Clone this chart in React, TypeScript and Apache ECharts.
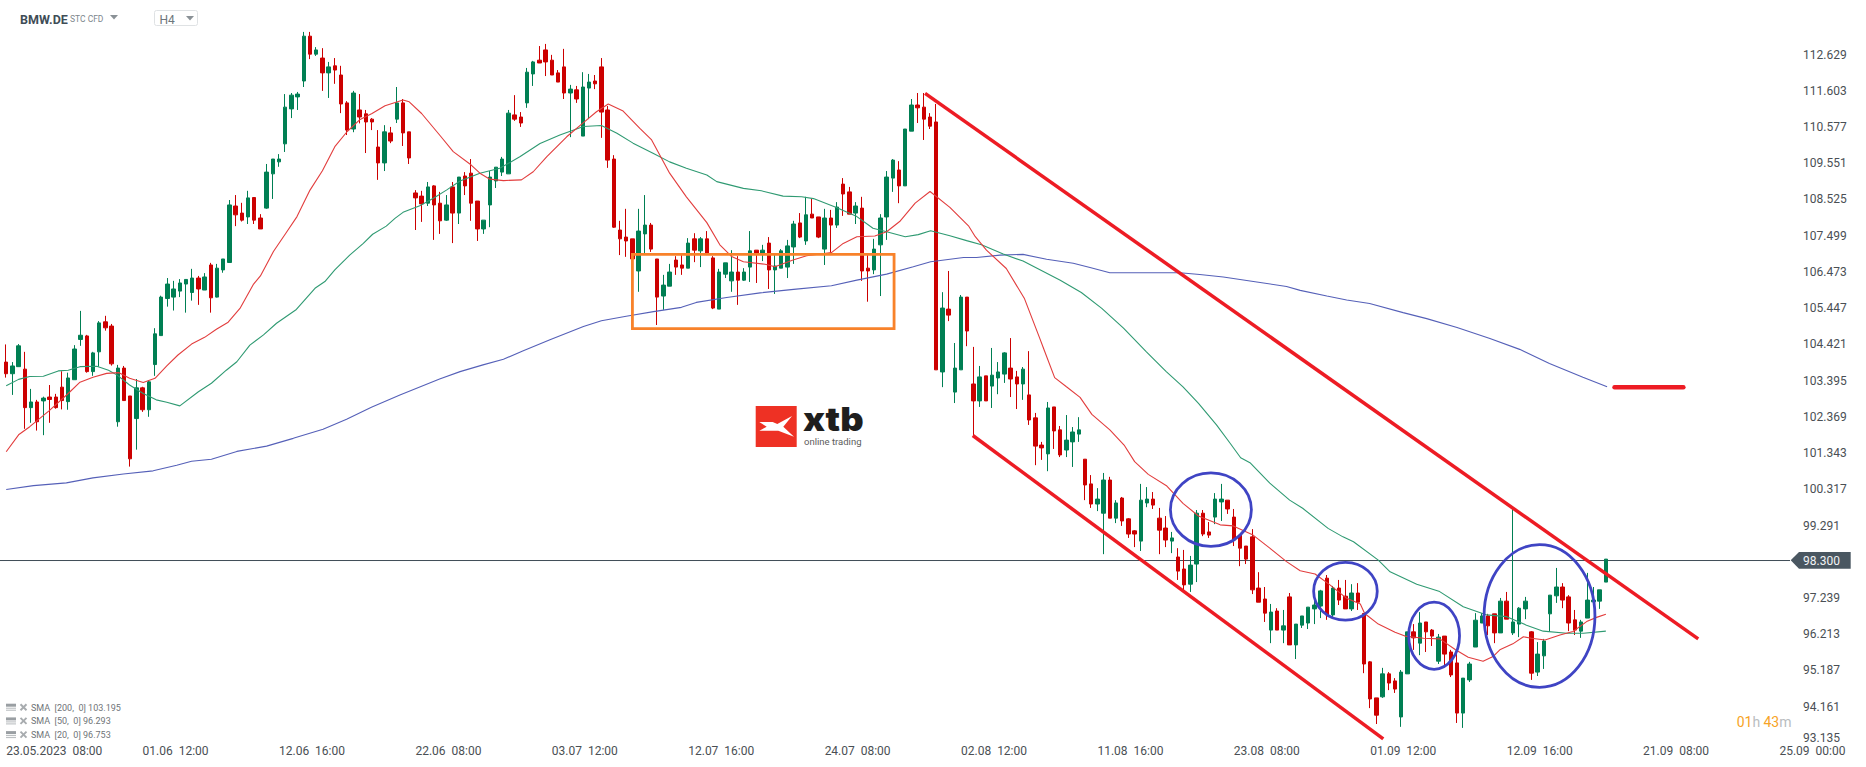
import { useEffect, useRef } from 'react'
import * as echarts from 'echarts'

// candles, H4
const opens = [
  103.92,103.59,103.79,103.72,102.63,102.79,102.82,102.93,102.93,103.21,
  102.80,103.42,104.56,104.66,103.65,104.21,105.06,104.94,102.23,103.75,
  102.96,102.32,103.19,102.57,103.85,104.67,105.72,105.76,105.93,106.13,
  105.89,106.30,105.96,106.67,105.76,106.53,106.74,108.34,108.14,108.03,
  108.58,108.00,108.28,109.25,109.59,110.10,111.09,111.43,111.88,113.15,
  112.64,112.53,112.11,112.31,112.05,111.26,110.52,111.06,110.95,110.80,
  110.01,109.56,110.41,110.80,111.26,110.44,108.71,108.62,108.42,108.91,
  108.42,107.94,108.88,108.14,109.19,109.27,108.48,107.69,108.37,109.05,
  109.30,109.25,110.92,110.86,111.26,112.08,112.47,112.76,112.47,112.11,
  112.28,111.54,111.63,110.32,111.68,111.88,112.28,111.06,109.67,107.66,
  107.46,107.41,106.50,107.55,107.80,106.84,105.79,106.07,106.81,106.67,
  106.58,107.41,107.07,107.41,106.87,105.42,106.41,106.22,106.47,106.24,
  106.61,107.09,106.98,107.29,106.53,106.58,106.61,107.18,107.86,107.35,
  108.11,108.03,107.12,108.00,107.80,108.96,108.74,108.14,108.28,106.58,
  106.53,107.24,108.03,109.13,109.36,108.91,110.46,111.20,111.14,110.86,
  110.72,103.64,105.42,103.07,103.70,105.76,103.30,102.82,103.53,103.24,
  103.47,103.58,103.75,103.50,103.30,102.99,102.34,101.57,101.32,102.65,
  102.00,101.43,101.66,101.88,101.17,100.47,99.90,99.64,100.58,99.50,
  100.07,99.48,99.14,98.85,99.93,100.04,99.50,99.22,98.85,98.40,
  98.06,97.63,98.20,99.64,99.11,99.53,99.96,100.01,99.53,99.02,
  98.71,98.97,97.52,97.21,96.33,96.87,96.33,97.27,95.91,96.47,
  96.53,96.93,97.01,97.80,96.76,97.52,97.29,96.93,97.38,96.80,
  95.43,94.41,94.44,95.09,94.89,93.87,95.09,96.28,95.96,96.56,
  96.33,95.45,96.16,95.71,95.40,93.98,94.92,95.85,96.53,96.73,
  96.79,96.25,97.15,96.25,96.50,96.93,96.28,95.14,95.60,96.79,
  97.30,97.55,97.27,96.62,96.30,96.67,97.13,97.15,97.69,
]
const closes = [
  103.59,103.81,104.38,102.63,102.79,102.23,102.90,102.86,102.63,102.83,
  103.47,104.29,104.68,103.65,104.18,105.03,104.89,103.87,103.75,102.83,
  101.18,103.19,102.57,103.36,104.72,105.76,106.13,105.99,106.16,106.26,
  106.30,105.99,106.33,105.74,106.58,106.84,108.37,108.09,107.94,108.57,
  107.94,107.69,109.30,109.67,109.67,111.14,111.48,111.51,113.15,112.64,
  112.76,112.11,112.28,112.19,111.23,110.49,111.54,110.86,110.72,110.72,
  109.56,110.44,110.18,111.26,110.41,109.70,108.57,108.40,108.88,108.37,
  107.92,108.37,108.14,109.16,108.91,108.42,107.69,107.94,109.16,109.44,
  109.67,110.97,110.80,110.69,112.13,112.42,112.39,112.42,112.05,111.85,
  111.54,111.65,111.37,111.71,111.85,111.80,111.00,109.64,107.74,107.41,
  107.35,106.84,107.63,107.80,107.12,105.76,106.10,106.47,106.61,106.58,
  107.29,107.09,107.41,106.98,105.45,106.47,106.73,106.47,106.24,106.47,
  107.07,106.98,107.09,106.53,106.64,107.07,107.21,107.83,107.46,108.09,
  108.00,107.46,108.00,107.80,108.31,108.68,108.11,108.34,106.50,106.50,
  107.12,108.00,109.16,109.64,108.91,110.52,111.20,111.12,110.80,110.60,
  103.70,105.45,105.25,103.75,105.76,104.80,102.82,103.50,102.82,103.55,
  103.64,104.18,103.44,103.30,103.72,102.28,101.54,101.49,102.62,101.97,
  101.29,101.71,101.94,102.00,100.44,99.90,100.04,100.58,99.50,99.93,
  99.42,99.05,99.05,100.01,100.04,99.87,99.16,98.88,98.94,98.00,
  97.61,98.17,99.64,99.05,99.02,100.04,100.04,99.76,98.88,98.65,
  98.34,97.47,97.12,96.81,96.84,96.33,96.45,95.91,96.50,96.73,
  96.98,97.04,97.44,96.76,97.52,97.18,96.93,97.38,97.12,95.37,
  94.38,93.92,95.09,94.83,94.66,95.14,96.28,96.11,96.53,96.28,
  96.16,96.13,95.65,95.06,93.98,94.97,95.37,96.61,96.73,96.45,
  96.25,97.15,96.64,96.56,96.95,97.15,95.11,95.65,96.02,97.32,
  97.55,97.18,96.53,96.33,96.56,97.18,97.18,97.47,98.34,
]
const lows = [
  103.48,102.99,103.79,102.03,102.20,101.98,101.85,102.20,102.60,102.58,
  102.57,103.42,104.38,103.62,103.53,103.79,104.81,103.82,102.09,102.83,
  100.96,101.44,102.51,102.37,103.53,104.67,105.49,105.38,105.76,105.32,
  105.66,105.54,105.96,105.32,105.75,106.45,106.74,107.77,107.90,107.83,
  107.83,107.69,108.26,108.54,109.45,109.87,110.83,111.06,111.71,112.50,
  112.59,111.60,111.40,111.80,110.97,110.35,110.43,110.68,109.84,110.49,
  109.08,109.33,110.12,110.69,110.04,109.53,107.66,107.89,108.34,107.38,
  107.55,107.92,107.29,107.83,108.65,107.92,107.35,107.55,107.74,108.85,
  109.19,109.25,110.75,110.58,111.12,111.74,112.39,112.02,112.05,111.85,
  111.37,110.29,111.26,110.32,110.80,111.65,110.27,109.42,107.72,106.95,
  106.90,106.84,105.91,106.98,107.04,104.97,105.40,106.07,106.39,106.39,
  106.58,106.75,106.61,106.95,105.42,105.42,106.30,105.91,105.54,106.22,
  106.19,106.16,106.78,105.99,105.85,106.58,106.30,106.70,107.43,107.24,
  108.00,107.43,106.67,106.95,107.72,108.06,108.11,107.83,106.22,105.63,
  106.41,105.79,107.38,108.74,108.42,108.91,110.46,110.69,110.21,110.52,
  103.70,103.21,105.08,102.76,103.70,104.37,101.85,102.65,102.82,102.62,
  103.01,103.33,102.93,102.59,102.85,102.14,101.00,101.15,100.83,101.46,
  101.23,101.23,100.95,101.66,100.01,99.79,99.70,98.48,99.50,99.36,
  99.28,98.94,98.68,98.57,99.81,99.76,98.48,98.68,98.51,97.75,
  97.41,97.41,97.69,98.99,98.94,99.33,99.42,99.62,98.71,98.14,
  98.20,97.35,97.12,96.56,95.96,96.33,95.96,95.91,95.51,96.39,
  96.36,96.50,96.67,96.62,96.70,97.04,96.93,96.87,96.90,95.11,
  94.12,93.67,94.41,94.63,94.55,93.59,95.09,95.77,95.62,95.71,
  95.88,95.37,95.34,95.00,93.70,93.56,94.86,95.85,96.53,96.19,
  95.96,96.25,96.64,96.19,96.13,96.64,94.92,95.03,95.23,96.28,
  97.10,96.95,96.30,96.19,96.11,96.67,97.13,96.93,97.69,
]
const highs = [
  104.42,103.92,104.43,104.21,103.16,102.85,102.94,103.27,103.02,103.66,
  103.62,104.40,105.37,104.69,104.21,105.08,105.23,105.00,103.84,103.81,
  102.96,103.44,103.22,103.41,104.88,105.80,106.30,106.22,106.27,106.26,
  106.56,106.36,106.44,106.73,106.70,106.84,108.51,108.65,108.43,108.77,
  108.59,108.11,109.53,109.67,109.81,111.51,111.54,111.57,113.27,113.27,
  112.84,112.81,112.42,112.53,112.31,111.31,111.60,111.51,111.06,110.83,
  110.49,110.63,110.58,111.71,111.37,110.44,108.79,108.77,109.02,108.93,
  108.74,108.65,109.02,109.16,109.30,109.67,108.48,107.94,109.33,109.44,
  109.73,111.06,111.48,111.00,112.25,112.45,112.87,112.93,112.62,112.19,
  112.79,111.77,111.74,112.13,112.08,112.05,112.53,111.17,109.78,107.92,
  108.26,107.41,108.26,108.65,107.86,106.84,106.39,106.70,106.92,106.95,
  107.43,107.57,107.46,107.63,106.92,106.56,106.73,107.09,106.92,106.58,
  107.63,107.09,107.24,107.46,106.95,107.12,107.38,107.92,108.14,108.60,
  108.54,108.03,108.26,108.23,108.45,109.13,108.88,108.45,108.60,106.95,
  107.41,108.11,109.33,109.67,109.61,110.52,111.37,111.54,111.54,110.97,
  111.23,105.90,106.50,104.46,105.82,105.76,104.35,103.81,103.53,104.32,
  103.92,104.20,104.60,103.67,103.78,104.23,102.48,101.66,102.79,102.65,
  102.11,102.42,102.08,102.36,101.17,100.72,100.35,100.78,100.67,100.01,
  100.10,99.50,99.16,100.47,100.38,100.24,99.79,99.56,99.11,98.65,
  98.60,98.43,99.73,99.73,99.39,100.21,100.47,100.01,99.76,99.05,
  98.71,99.19,97.97,97.55,97.07,96.95,96.90,97.38,96.50,96.73,
  96.98,97.44,97.47,97.89,97.58,97.75,97.75,97.63,97.66,96.80,
  95.45,94.41,95.26,95.14,94.97,95.20,96.28,96.50,96.84,96.56,
  96.36,96.22,96.16,95.77,95.74,94.97,95.43,96.81,96.81,96.79,
  96.79,97.24,97.41,99.76,96.98,97.27,96.30,95.99,96.08,97.32,
  98.09,97.66,97.32,96.90,96.62,97.95,97.55,97.47,98.34,
]

// moving averages as [bar, price], read at the bends of each line
const sma20 = [
  [0,101.38],[2,101.86],[3.8,102.09],[6.9,102.54],[10,103.03],[11.9,103.35],[14,103.49],[16.2,103.60],[18.2,103.62],[19.9,103.46],
  [22.1,103.34],[24,103.46],[25.9,103.81],[27.7,104.12],[29.9,104.43],[32,104.62],[33.9,104.85],[35.8,105.05],[37.7,105.44],[39.9,106.13],
  [41,106.36],[43.1,107.05],[45.1,107.57],[46.9,108.04],[49,108.79],[51,109.34],[53,110.02],[55,110.45],[57,110.78],[59,110.96],
  [61.1,111.18],[64,111.34],[65,111.29],[67,110.96],[70,110.33],[72.1,109.88],[75,109.50],[76.4,109.27],[78,109.10],[80.2,109.06],
  [83.1,109.08],[85,109.31],[87.2,109.74],[90.4,110.30],[93.1,110.70],[95.2,111.01],[97.1,111.23],[99.5,111.03],[102.2,110.54],[104.1,110.21],
  [107,109.27],[109.7,108.60],[113,107.87],[115.1,107.24],[117,106.91],[118.9,106.76],[122.4,106.69],[124,106.62],[126.9,106.81],[129.1,106.93],
  [133.1,107.02],[135,107.28],[137.2,107.47],[140.1,107.49],[142,107.61],[144.1,107.90],[146.6,108.42],[149,108.75],[152.2,108.30],[155.2,107.78],
  [156.3,107.47],[158.1,107.09],[161.3,106.57],[164.2,105.73],[166.7,104.59],[167.3,104.31],[169.1,103.48],[171,103.22],[173.2,102.92],[175.1,102.44],
  [178,102.00],[180.3,101.57],[182,101.10],[184.2,100.74],[187.2,100.41],[189.8,99.92],[192.3,99.56],[195.8,99.31],[197.9,99.28],[201.1,99.02],
  [203.8,98.65],[206.5,98.27],[208.7,98.01],[211.1,97.92],[213.5,97.61],[216.2,97.23],[218.4,97.07],[219.1,96.80],[221.3,96.50],[224,96.27],
  [225.6,96.16],[228.6,96.10],[231.2,96.08],[233.7,95.78],[235.8,95.56],[238.2,95.45],[239.8,95.58],[240.9,95.77],[243,95.94],[244.7,96.14],
  [246,96.10],[248.2,96.05],[250.6,96.19],[252.7,96.29],[254.9,96.57],[256.5,96.69],[258,96.78],
]
const sma50 = [
  [0,103.25],[2,103.43],[3.8,103.51],[6,103.52],[8.4,103.67],[10,103.69],[11.9,103.79],[14.6,103.80],[16.5,103.69],[17.9,103.55],
  [19.9,103.27],[22.1,103.03],[24.2,102.85],[25.9,102.78],[28,102.68],[31,103.08],[33.1,103.32],[35.5,103.69],[37.2,103.93],[39.3,104.40],
  [41.5,104.69],[43.6,105.02],[46.8,105.41],[49.8,106.01],[51.4,106.20],[53,106.53],[55.4,106.95],[57.6,107.28],[59.1,107.54],[61.3,107.77],
  [62.7,107.99],[64,108.16],[66.7,108.35],[68.9,108.56],[71,108.79],[73.2,109.05],[76.4,109.27],[79.6,109.41],[82.9,109.74],[86.1,110.11],
  [89.3,110.35],[93.1,110.59],[96,110.62],[98.5,110.40],[101.1,110.12],[104.4,109.83],[107,109.59],[109.7,109.41],[113,109.22],[114.6,109.03],
  [118.9,108.84],[121.8,108.77],[125.3,108.62],[128.3,108.60],[130.2,108.55],[133.9,108.30],[137.2,108.04],[139.8,107.71],[142,107.61],[145,107.47],
  [147.1,107.53],[149.1,107.64],[152.2,107.50],[154.9,107.36],[157.3,107.24],[160.8,106.98],[164,106.78],[170,106.24],[173.4,105.89],[176.7,105.44],
  [180.2,104.88],[183.9,104.21],[187.1,103.65],[189.8,103.22],[192.3,102.75],[195.2,102.14],[197.4,101.62],[199.1,101.21],[200.6,101.07],[203.8,100.49],
  [207,100.01],[209.1,99.78],[213.2,99.21],[215.6,98.97],[217.3,98.83],[221.3,98.31],[223.2,97.98],[227.5,97.63],[231.2,97.42],[235,96.99],
  [238.8,96.76],[242,96.71],[245.2,96.47],[247.9,96.30],[251.7,96.24],[254.4,96.24],[258,96.30],
]
const sma200 = [
  [0,100.31],[4.4,100.42],[9.7,100.50],[14,100.64],[18.9,100.75],[23.7,100.84],[27.5,101.00],[29.9,101.11],[33.1,101.17],[37.2,101.39],
  [42,101.54],[46.3,101.76],[51.1,102.02],[54.9,102.30],[58.9,102.64],[63.5,102.99],[69.9,103.44],[73.2,103.65],[76.9,103.84],[80.2,104.00],
  [83.4,104.24],[87.7,104.55],[93.1,104.93],[96,105.09],[100,105.22],[104.4,105.35],[108.9,105.47],[111.3,105.61],[116.2,105.75],[121.6,105.88],
  [127,105.98],[133.1,106.08],[137.2,106.24],[142,106.41],[146.3,106.62],[149.1,106.76],[154.4,106.88],[156.5,106.88],[160.3,106.95],[164,106.97],
  [167.8,106.83],[172.1,106.72],[174.8,106.60],[178,106.45],[189.3,106.45],[192.5,106.40],[196.3,106.33],[201.7,106.19],[206.5,106.06],[208.7,105.95],
  [213,105.79],[216.2,105.68],[219.9,105.58],[225.3,105.32],[229.1,105.15],[234,104.90],[239.3,104.59],[244.1,104.28],[248.9,103.88],[254.3,103.49],
  [258.2,103.22],
]

// hand-drawn analysis on the chart, [bar, price]
const upperChannel = [[148.2, 111.53], [272.9, 96.08]]
const lowerChannel = [[155.9, 101.84], [222.1, 93.25]]
const targetDash = [[259.4, 103.21], [270.5, 103.21]]
const rangeBox = [101, 106.97, 143.2, 104.87]
// [bar, price, half width in bars, half height in price]
const circles = [
  [194.3, 99.74, 6.53, 1.04],
  [216, 97.43, 5.13, 0.82],
  [230.3, 96.17, 4.1, 0.95],
  [247.3, 96.73, 8.94, 2.02],
]

const lastPrice = 98.3
const priceTicks = [112.629, 111.603, 110.577, 109.551, 108.525, 107.499, 106.473, 105.447, 104.421, 103.395, 102.369, 101.343, 100.317, 99.291, 97.239, 96.213, 95.187, 94.161, 93.135]
const timeLabels = ['23.05.2023  08:00', '01.06  12:00', '12.06  16:00', '22.06  08:00', '03.07  12:00', '12.07  16:00', '24.07  08:00', '02.08  12:00', '11.08  16:00', '23.08  08:00', '01.09  12:00', '12.09  16:00', '21.09  08:00', '25.09  00:00']
const barsPerLabel = 22
const legendRows = ['SMA  [200,  0] 103.195', 'SMA  [50,  0] 96.293', 'SMA  [20,  0] 96.753']

const font = 'Roboto, sans-serif'
const textColor = '#4a4f54'

function analysisLine(data: number[][], width: number) {
  return {
    type: 'line',
    data,
    showSymbol: false,
    silent: true,
    z: 6,
    lineStyle: { color: '#ed1c24', width },
  }
}

function smaLine(data: number[][], color: string) {
  return {
    type: 'line',
    data,
    showSymbol: false,
    silent: true,
    z: 4,
    lineStyle: { color, width: 1.1 },
  }
}

function buildGraphic() {
  const elements: any[] = [
    // price tag
    { type: 'polygon', shape: { points: [[1790.7, 560.3], [1799, 552], [1850.7, 552], [1850.7, 568.7], [1799, 568.7]] }, style: { fill: '#4a5761' } },
    { type: 'text', x: 1803, y: 561, style: { text: '98.300', font: `12px ${font}`, fill: '#f2f4f5', verticalAlign: 'middle' } },
    // header
    { type: 'text', x: 20, y: 19, style: { text: 'BMW.DE', font: `bold 12.5px ${font}`, fill: '#3f4d57', verticalAlign: 'middle' } },
    { type: 'text', x: 70, y: 19, style: { text: 'STC CFD', font: `8.5px ${font}`, fill: '#7d868c', verticalAlign: 'middle' } },
    { type: 'polygon', shape: { points: [[110, 15], [118, 15], [114, 19.5]] }, style: { fill: '#8a9196' } },
    { type: 'rect', shape: { x: 154.5, y: 10.5, width: 43, height: 15, r: 2 }, style: { fill: '#fff', stroke: '#dfe2e4', lineWidth: 1 } },
    { type: 'text', x: 159.5, y: 20, style: { text: 'H4', font: `12px ${font}`, fill: '#6d767c', verticalAlign: 'middle' } },
    { type: 'polygon', shape: { points: [[186, 16], [194, 16], [190, 20.5]] }, style: { fill: '#8a9196' } },
    // xtb logo
    { type: 'rect', shape: { x: 755.7, y: 406, width: 41, height: 41 }, style: { fill: '#ee3124' } },
    { type: 'polygon', shape: { points: [[759.3, 422], [772.7, 422], [777.3, 424], [792, 416], [783.3, 426.7], [794, 436.7], [778.3, 430.7], [771.7, 430.7], [759.3, 430.7], [766.7, 426.7]] }, style: { fill: '#fff' } },
    { type: 'text', x: 803, y: 418.5, scaleX: 1.1, style: { text: 'xtb', font: `900 33px Inter, ${font}`, fill: '#1e1e1e', verticalAlign: 'middle' } },
    { type: 'text', x: 804, y: 441.5, style: { text: 'online trading', font: `9.5px ${font}`, fill: '#5d5d5d', verticalAlign: 'middle' } },
    // candle countdown
    {
      type: 'text', x: 1736.7, y: 722,
      style: {
        text: '{a|01}{b|h} {a|43}{b|m}',
        verticalAlign: 'middle',
        rich: {
          a: { font: `14px ${font}`, fill: '#f7a326' },
          b: { font: `14px ${font}`, fill: '#b9bdc0' },
        },
      },
    },
  ]
  legendRows.forEach((row, i) => {
    const y = 707.7 + i * 13.7
    elements.push(
      { type: 'rect', shape: { x: 6, y: y - 4, width: 10, height: 3 }, style: { fill: '#9a9fa3' } },
      { type: 'rect', shape: { x: 6, y: y, width: 10, height: 1 }, style: { fill: '#b5b9bc' } },
      { type: 'rect', shape: { x: 6, y: y + 2, width: 10, height: 1 }, style: { fill: '#b5b9bc' } },
      { type: 'line', shape: { x1: 20.5, y1: y - 3.5, x2: 26.5, y2: y + 2.5 }, style: { stroke: '#a8acaf', lineWidth: 2 } },
      { type: 'line', shape: { x1: 26.5, y1: y - 3.5, x2: 20.5, y2: y + 2.5 }, style: { stroke: '#a8acaf', lineWidth: 2 } },
      { type: 'text', x: 31, y, style: { text: row, font: `9px ${font}`, fill: '#6f7478', verticalAlign: 'middle' } },
    )
  })
  return elements
}

export default function App() {
  const chartRef = useRef<HTMLDivElement>(null)

  useEffect(() => {
    if (!chartRef.current) return
    document.body.style.margin = '0'
    document.body.style.background = '#fff'

    const chart = echarts.init(chartRef.current, null, { renderer: 'svg' })
    const candles = opens.map((o, i) => [i, o, closes[i], lows[i], highs[i]])

    chart.setOption({
      animation: false,
      grid: { left: 0, right: 76, top: 0, bottom: 23 },
      xAxis: {
        type: 'value',
        min: -1,
        max: 287.7,
        axisLine: { show: false },
        axisTick: { show: false },
        splitLine: { show: false },
        axisLabel: {
          customValues: timeLabels.map((_, i) => i * barsPerLabel),
          formatter: (v: number) => timeLabels[Math.round(v / barsPerLabel)],
          align: 'left',
          margin: 1,
          color: textColor,
          fontFamily: font,
          fontSize: 12,
        },
      },
      yAxis: {
        type: 'value',
        position: 'right',
        min: 93.104,
        max: 114.174,
        axisLine: { show: false },
        axisTick: { show: false },
        splitLine: { show: false },
        axisLabel: {
          customValues: priceTicks,
          formatter: (v: number) => (v < 93.2 ? `{low|${v.toFixed(3)}}` : v.toFixed(3)),
          margin: 13,
          color: textColor,
          fontFamily: font,
          fontSize: 12,
          rich: { low: { color: textColor, fontFamily: font, fontSize: 12, padding: [0, 0, 10, 0] } },
        },
      },
      series: [
        {
          type: 'line',
          data: [[-1, lastPrice], [287.7, lastPrice]],
          showSymbol: false,
          silent: true,
          z: 1,
          lineStyle: { color: '#3f4d57', width: 1 },
        },
        {
          type: 'candlestick',
          data: candles,
          encode: { x: 0, y: [1, 2, 3, 4] },
          barWidth: 4,
          z: 2,
          silent: true,
          itemStyle: {
            color: '#007f53',
            color0: '#cc0000',
            borderColor: '#007f53',
            borderColor0: '#cc0000',
            borderWidth: 1,
          },
        },
        smaLine(sma200, '#5560b8'),
        smaLine(sma50, '#2f9a72'),
        smaLine(sma20, '#e23d3d'),
        analysisLine(upperChannel, 3.5),
        analysisLine(lowerChannel, 3.5),
        { ...analysisLine(targetDash, 4.5), lineStyle: { color: '#ed1c24', width: 4.5, cap: 'round' } },
        {
          type: 'custom',
          silent: true,
          z: 5,
          data: [rangeBox],
          encode: { x: 0, y: 1 },
          clip: false,
          renderItem: (_: any, api: any) => {
            const a = api.coord([api.value(0), api.value(1)])
            const b = api.coord([api.value(2), api.value(3)])
            return {
              type: 'rect',
              shape: { x: a[0], y: a[1], width: b[0] - a[0], height: b[1] - a[1] },
              style: { fill: 'none', stroke: '#f8822a', lineWidth: 2.8 },
            }
          },
        },
        {
          type: 'custom',
          silent: true,
          z: 6,
          data: circles,
          encode: { x: 0, y: 1 },
          clip: false,
          renderItem: (_: any, api: any) => {
            const c = api.coord([api.value(0), api.value(1)])
            const s = api.size([api.value(2), api.value(3)])
            return {
              type: 'ellipse',
              shape: { cx: c[0], cy: c[1], rx: s[0], ry: s[1] },
              style: { fill: 'none', stroke: '#3f44c4', lineWidth: 2.8 },
            }
          },
        },
      ],
      graphic: buildGraphic(),
    })

    return () => {
      chart.dispose()
    }
  }, [])

  return <div ref={chartRef} style={{ width: 1866, height: 767 }} />
}
